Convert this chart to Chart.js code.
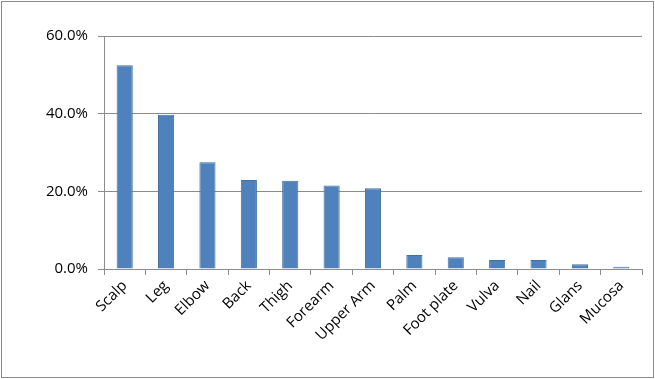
<!DOCTYPE html>
<html><head><meta charset="utf-8">
<script src="https://cdn.jsdelivr.net/npm/chart.js@4/dist/chart.umd.min.js"></script>
<style>html,body{margin:0;padding:0;background:#fff}#wrap{width:655px;height:379px;position:relative}</style>
</head><body><div id="wrap"><canvas id="c" width="655" height="379"></canvas></div>
<script>
const categories = ["Scalp","Leg","Elbow","Back","Thigh","Forearm","Upper Arm","Palm","Foot plate","Vulva","Nail","Glans","Mucosa"];
const values = [52.5,39.7,27.5,22.9,22.7,21.5,20.8,3.6,3.0,2.3,2.3,1.2,0.6];
const yTicks = [0,20,40,60];

const frame = {id:'frame', beforeDraw(chart){const c=chart.ctx;c.save();c.fillStyle='#fff';c.fillRect(0,0,chart.width,chart.height);c.strokeStyle='#8c8c8c';c.lineWidth=1;c.strokeRect(1.5,1.5,chart.width-3,chart.height-3);c.restore();}};

new Chart(document.getElementById('c'), {
  type:'bar',
  data:{labels:categories, datasets:[{data:values, backgroundColor:'#4F81BD', borderColor:'#41719C', borderWidth:1, barPercentage:0.39, categoryPercentage:1}]},
  options:{
    responsive:false, animation:false,
    layout:{padding:{left:0,right:13,top:36,bottom:0}},
    plugins:{legend:{display:false}, tooltip:{enabled:false}},
    scales:{
      x:{grid:{display:true, drawOnChartArea:false, color:'#8c8c8c', tickLength:6, offset:true},
         border:{color:'#8c8c8c'},
         ticks:{color:'#000', font:{family:'"Open Sans", "Liberation Sans", sans-serif', size:15}, maxRotation:45, minRotation:45, padding:2},
         afterFit(s){s.height=110;}},
      y:{min:0,max:60, afterBuildTicks(s){s.ticks=yTicks.map(v=>({value:v}));},
         grid:{color:'#8c8c8c', tickLength:6},
         border:{color:'#8c8c8c'},
         ticks:{color:'#000', font:{family:'"Open Sans", "Liberation Sans", sans-serif', size:15}, padding:10, callback:v=>v.toFixed(1)+'%'},
         afterFit(s){s.width=104;}}
    }
  },
  plugins:[frame]
});
</script></body></html>
